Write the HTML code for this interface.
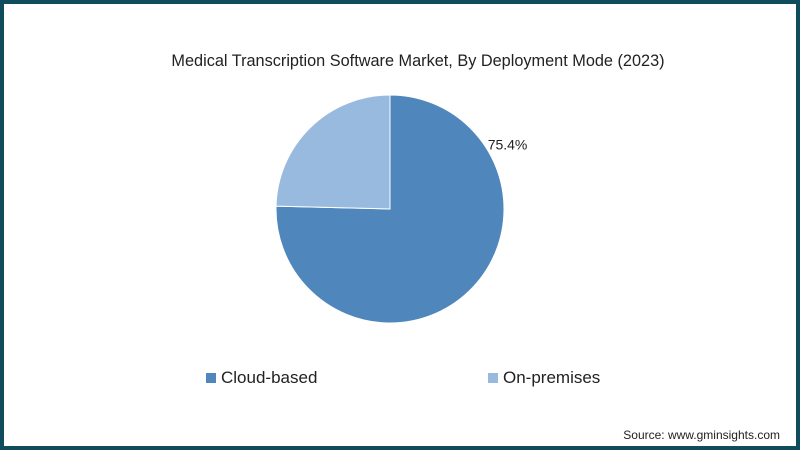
<!DOCTYPE html>
<html><head><meta charset="utf-8"><style>
body{margin:0;width:800px;height:450px;overflow:hidden;font-family:"Liberation Sans",sans-serif;}
#frame{position:absolute;left:0;top:0;width:792px;height:442px;border:4px solid #0f4c5c;background:#fff;}
.t{position:absolute;white-space:nowrap;color:#222;}
</style></head><body>
<div id="frame"></div>
<div class="t" style="left:18px;width:800px;text-align:center;top:52px;font-size:16.3px;">Medical Transcription Software Market, By Deployment Mode (2023)</div>
<svg id="pie" width="800" height="450" style="position:absolute;left:0;top:0"></svg>
<div class="t" style="left:206px;top:368px;font-size:17px;"><span style="display:inline-block;width:10px;height:10px;background:#4f86bb;margin-right:5px"></span>Cloud-based</div>
<div class="t" style="left:488px;top:368px;font-size:17px;"><span style="display:inline-block;width:10px;height:10px;background:#99badf;margin-right:5px"></span>On-premises</div>
<div class="t" style="right:20px;top:428px;font-size:12px;">Source: www.gminsights.com</div>
<script>
const categories=["Cloud-based","On-premises"];
const values=[75.4,24.6];
const labels=["75.4%",""];
const colors=["#4f86bb","#99badf"];
const svg=document.getElementById('pie');
const cx=390,cy=209,r=114;
const total=values.reduce((a,b)=>a+b,0);
let a0=0;
values.forEach((v,i)=>{
  const a1=a0+v/total*2*Math.PI;
  const x0=cx+r*Math.sin(a0),y0=cy-r*Math.cos(a0),x1=cx+r*Math.sin(a1),y1=cy-r*Math.cos(a1);
  const p=document.createElementNS('http://www.w3.org/2000/svg','path');
  p.setAttribute('d',`M${cx},${cy}L${x0},${y0}A${r},${r} 0 ${a1-a0>Math.PI?1:0} 1 ${x1},${y1}Z`);
  p.setAttribute('fill',colors[i]);p.setAttribute('stroke','#fff');p.setAttribute('stroke-width','1');
  
  
  svg.appendChild(p);
  if(labels[i]){
    const t=document.createElementNS('http://www.w3.org/2000/svg','text');
    const la=a0+1.07;
    t.setAttribute('x',cx+(r+20)*Math.sin(la));t.setAttribute('y',cy-(r+20)*Math.cos(la)+5);
    t.setAttribute('text-anchor','middle');
    t.setAttribute('font-size','14');t.setAttribute('fill','#222');
    t.setAttribute('font-family','Liberation Sans, sans-serif');
    
    
    t.textContent=labels[i];svg.appendChild(t);
  }
  a0=a1;
});
</script>
</body></html>
